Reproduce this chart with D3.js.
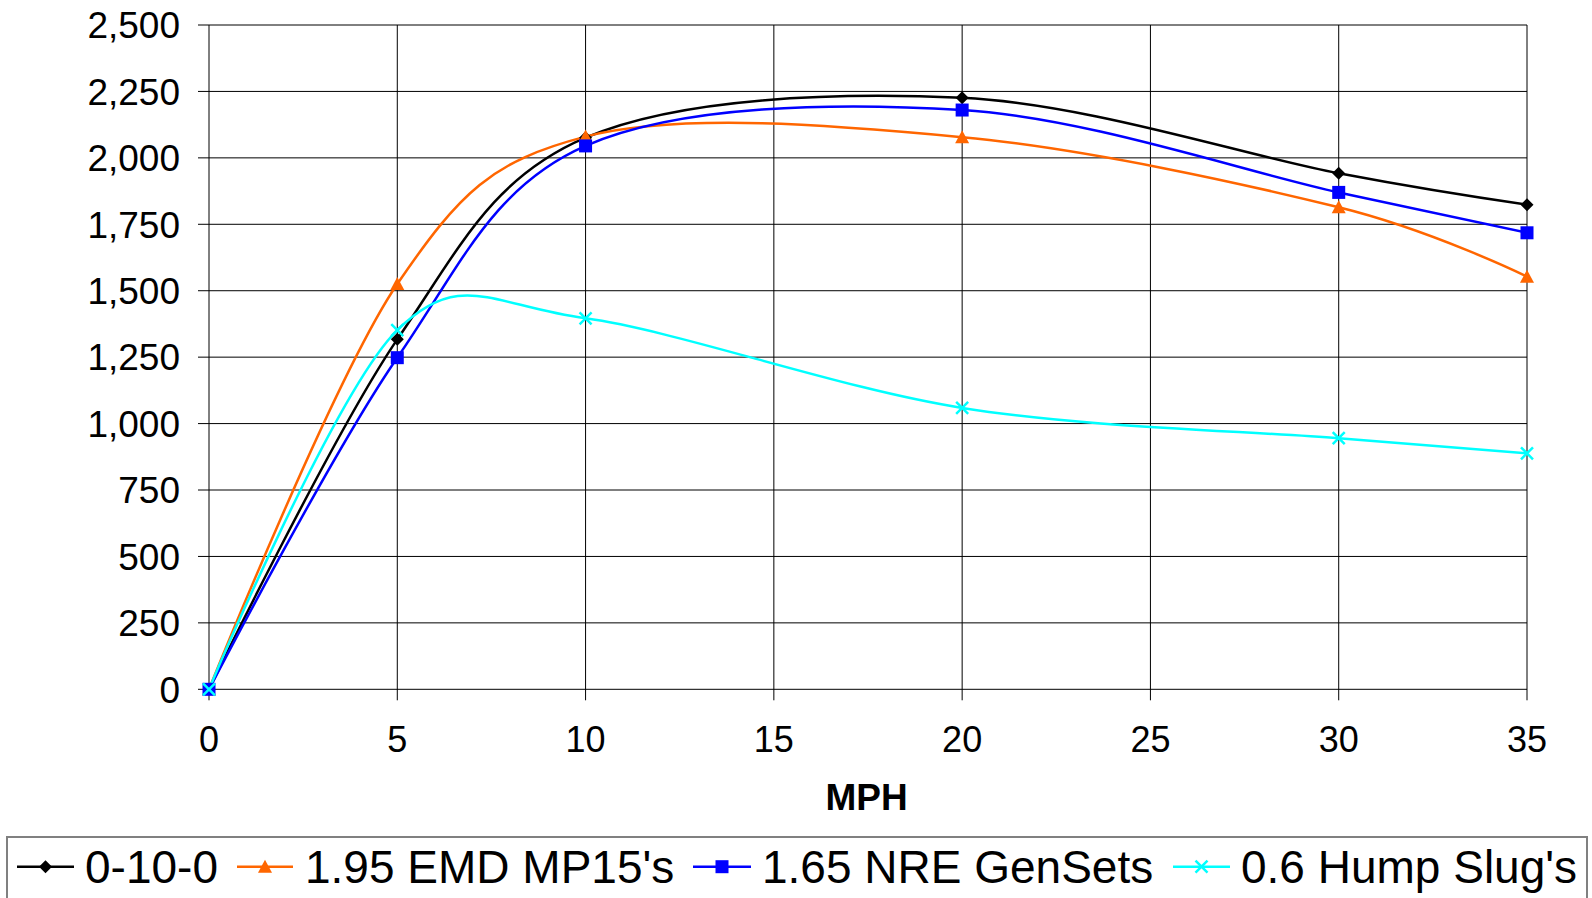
<!DOCTYPE html>
<html><head><meta charset="utf-8">
<script src="https://cdn.jsdelivr.net/npm/d3@7"></script>
<style>html,body{margin:0;padding:0;background:#fff;overflow:hidden}</style>
</head><body>
<svg id="c" width="1592" height="898"></svg>
<script>
const mph = [0, 5, 10, 20, 30, 35];
const seriesNames = ["0-10-0", "1.95 EMD MP15's", "1.65 NRE GenSets", "0.6 Hump Slug's"];
const s0100 = [0, 1317, 2076, 2226, 1942, 1824];
const sEMD = [0, 1525, 2080, 2078, 1814, 1553];
const sNRE = [0, 1248, 2045, 2180, 1870, 1718];
const sHump = [0, 1352, 1396, 1059, 945, 888];
const xTicks = [0, 5, 10, 15, 20, 25, 30, 35];
const yTicks = [0, 250, 500, 750, 1000, 1250, 1500, 1750, 2000, 2250, 2500];
const xTitle = "MPH";

const series = [
  {name: seriesNames[0], values: s0100, color: "#000000", marker: "diamond"},
  {name: seriesNames[1], values: sEMD, color: "#FF6600", marker: "triangle"},
  {name: seriesNames[2], values: sNRE, color: "#0000FF", marker: "square"},
  {name: seriesNames[3], values: sHump, color: "#00FFFF", marker: "x"}
];

const svg = d3.select("#c");
const font = "Arial, 'Liberation Sans', sans-serif";
const x = d3.scaleLinear().domain([0, 35]).range([209, 1527]);
const y = d3.scaleLinear().domain([0, 2500]).range([689.3, 25]);

// gridlines
const g = svg.append("g");
g.selectAll(".hg").data(yTicks).enter().append("line")
  .attr("x1", x(0) - 11).attr("x2", x(35))
  .attr("y1", d => y(d)).attr("y2", d => y(d))
  .attr("stroke", "#000").attr("stroke-width", 1);
g.selectAll(".vg").data(xTicks).enter().append("line")
  .attr("x1", d => x(d)).attr("x2", d => x(d))
  .attr("y1", y(2500)).attr("y2", y(0) + 11)
  .attr("stroke", "#000").attr("stroke-width", 1);

// axes labels
svg.append("g").selectAll("text").data(yTicks).enter().append("text")
  .attr("x", 180).attr("y", d => y(d)).attr("dy", "0.36em")
  .attr("text-anchor", "end").attr("font-family", font).attr("font-size", 37)
  .text(d => d3.format(",")(d));
svg.append("g").selectAll("text").data(xTicks).enter().append("text")
  .attr("x", d => x(d)).attr("y", 752)
  .attr("text-anchor", "middle").attr("font-family", font).attr("font-size", 36)
  .text(d => d);
svg.append("text").attr("x", 866.5).attr("y", 809.5)
  .attr("text-anchor", "middle").attr("font-family", font).attr("font-size", 37)
  .attr("font-weight", "bold").text(xTitle);

// markers
function marker(sel, type, color, cx, cy) {
  if (type === "diamond") {
    sel.append("path").attr("d", `M${cx},${cy-6.5}L${cx+6.5},${cy}L${cx},${cy+6.5}L${cx-6.5},${cy}Z`).attr("fill", color);
  } else if (type === "triangle") {
    sel.append("path").attr("d", `M${cx},${cy-7}L${cx+7},${cy+6}L${cx-7},${cy+6}Z`).attr("fill", color);
  } else if (type === "square") {
    sel.append("rect").attr("x", cx-6.5).attr("y", cy-6.5).attr("width", 13).attr("height", 13).attr("fill", color);
  } else {
    sel.append("path").attr("d", `M${cx-6},${cy-6}L${cx+6},${cy+6}M${cx+6},${cy-6}L${cx-6},${cy+6}`)
      .attr("stroke", color).attr("stroke-width", 2.5).attr("fill", "none");
  }
}

const line = d3.line().x(d => x(d[0])).y(d => y(d[1])).curve(d3.curveCatmullRom.alpha(0));
series.forEach(s => {
  const pts = mph.map((m, i) => [m, s.values[i]]);
  svg.append("path").attr("d", line(pts)).attr("fill", "none")
    .attr("stroke", s.color).attr("stroke-width", 2.5);
});
series.forEach(s => {
  const mg = svg.append("g");
  mph.forEach((m, i) => marker(mg, s.marker, s.color, x(m), y(s.values[i])));
});

// legend
svg.append("rect").attr("x", 7).attr("y", 837).attr("width", 1580).attr("height", 80)
  .attr("fill", "#fff").attr("stroke", "#808080").attr("stroke-width", 2);
const legX = [[17, 74, 85], [237, 293, 305], [693, 751, 762], [1173, 1230, 1241]];
series.forEach((s, i) => {
  const [a, b, t] = legX[i];
  const ly = 866.7;
  svg.append("line").attr("x1", a).attr("x2", b).attr("y1", ly).attr("y2", ly)
    .attr("stroke", s.color).attr("stroke-width", 2.5);
  marker(svg, s.marker, s.color, (a + b) / 2, ly);
  svg.append("text").attr("x", t).attr("y", 883.3).attr("font-family", font)
    .attr("font-size", 46).text(s.name);
});
</script>
</body></html>
